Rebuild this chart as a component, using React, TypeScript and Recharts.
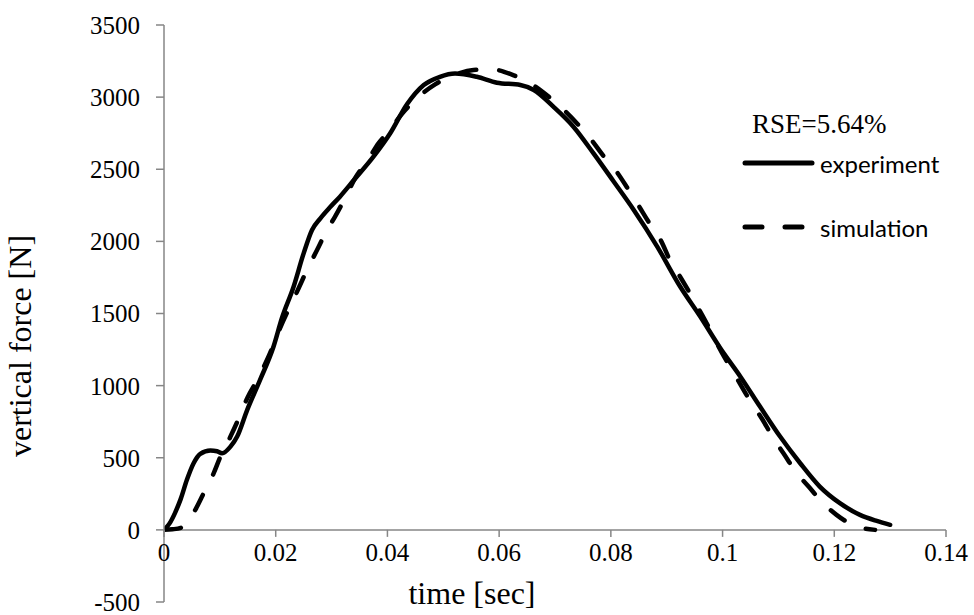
import { LineChart, Line, XAxis, YAxis, ReferenceLine } from "recharts";

// measured ground reaction force (solid)
const expTime = [
  0, 0.001, 0.002, 0.003, 0.0041, 0.0053, 0.0065, 0.0083, 0.0095, 0.0104, 0.0119, 0.0131,
  0.0149, 0.0172, 0.0196, 0.0211, 0.0232, 0.025, 0.0265, 0.028, 0.0298, 0.0315, 0.034,
  0.0375, 0.0405, 0.0435, 0.0465, 0.0494, 0.0521, 0.056, 0.0596, 0.0638, 0.0662, 0.0697,
  0.0733, 0.0769, 0.0805, 0.0841, 0.0883, 0.0924, 0.096, 0.0996, 0.1032, 0.1067, 0.1103,
  0.1139, 0.1174, 0.121, 0.1246, 0.1276, 0.13,
];
const expForce = [
  0, 45, 120, 215, 347, 462, 527, 550, 545, 531, 577, 647,
  832, 1040, 1270, 1467, 1686, 1917, 2079, 2160, 2240, 2310, 2425,
  2587, 2749, 2950, 3084, 3141, 3164, 3141, 3100, 3084, 3049, 2934,
  2795, 2610, 2415, 2218, 1964, 1687, 1479, 1259, 1062, 855, 647,
  462, 300, 185, 104, 62, 35,
];

// simulated force (dashed)
const simTime = [
  0, 0.0015, 0.003, 0.0056, 0.0071, 0.0089, 0.0101, 0.0119, 0.0134, 0.0149, 0.0167, 0.0187,
  0.0208, 0.0241, 0.0256, 0.0274, 0.0292, 0.0306, 0.0324, 0.0342, 0.0366, 0.0384, 0.0399,
  0.0432, 0.0453, 0.0486, 0.0516, 0.0554, 0.0587, 0.0625, 0.0656, 0.0689, 0.0713, 0.0742,
  0.0763, 0.079, 0.0808, 0.0832, 0.0849, 0.0871, 0.0889, 0.0907, 0.0924, 0.0945, 0.096,
  0.0981, 0.0993, 0.1022, 0.1052, 0.107, 0.1091, 0.1109, 0.1133, 0.1154, 0.118, 0.1204,
  0.124, 0.1273,
];
const simForce = [
  0, 4, 14, 139, 254, 393, 508, 647, 774, 913, 1040, 1200,
  1400, 1675, 1802, 1940, 2080, 2170, 2299, 2437, 2570, 2680, 2749,
  2911, 2992, 3090, 3146, 3188, 3192, 3153, 3095, 3002, 2922, 2807,
  2714, 2576, 2495, 2356, 2252, 2114, 2010, 1860, 1755, 1617, 1513,
  1363, 1270, 1075, 878, 774, 635, 531, 393, 300, 185, 104,
  23, 0,
];

const xTicks = [0, 0.02, 0.04, 0.06, 0.08, 0.1, 0.12, 0.14];
const yTicks = [-500, 0, 500, 1000, 1500, 2000, 2500, 3000, 3500];

const expData = expTime.map((t, i) => ({ t, f: expForce[i] }));
const simData = simTime.map((t, i) => ({ t, f: simForce[i] }));

const W = 974;
const H = 615;
const M = { top: 25, right: 28, bottom: 0, left: 0 };
const X_AXIS_H = 13;
const Y_MIN = -500;
const Y_MAX = 3500;
const AXIS = "#868686";
const SERIF = '"Liberation Serif", "Times New Roman", serif';

const legendItems = [
  { name: "experiment", dash: undefined as string | undefined },
  { name: "simulation", dash: "17 23" },
];

// x axis crosses at y = 0, so ticks are drawn there instead of at the plot bottom
function XTick(props: any) {
  const { x, payload } = props;
  const plotH = H - M.top - M.bottom - X_AXIS_H;
  const y0 = M.top + (plotH * (Y_MAX - 0)) / (Y_MAX - Y_MIN);
  return (
    <g>
      <line x1={x} x2={x} y1={y0} y2={y0 + 7} stroke={AXIS} strokeWidth={1.5} />
      <text x={x} y={y0 + 31} textAnchor="middle" fontFamily={SERIF} fontSize={25} fill="#000">
        {payload.value}
      </text>
    </g>
  );
}

export default function App() {
  return (
    <div style={{ position: "relative", width: W, height: H, background: "#fff" }}>
      <style>{"body{margin:0}"}</style>
      <LineChart width={W} height={H} margin={M} style={{ overflow: "visible" }}>
        <XAxis
          dataKey="t"
          type="number"
          domain={[0, 0.14]}
          ticks={xTicks}
          interval={0}
          axisLine={false}
          tickLine={false}
          tickSize={0}
          tickMargin={0}
          height={X_AXIS_H}
          tick={<XTick />}
          allowDataOverflow
        />
        <YAxis
          type="number"
          domain={[Y_MIN, Y_MAX]}
          ticks={yTicks}
          width={164}
          tickSize={8}
          tickMargin={16}
          tick={{ fontFamily: SERIF, fontSize: 25, fill: "#000" }}
          axisLine={{ stroke: AXIS, strokeWidth: 1.5 }}
          tickLine={{ stroke: AXIS, strokeWidth: 1.5 }}
          interval={0}
        />
        <ReferenceLine y={0} stroke={AXIS} strokeWidth={1.5} />
        <Line
          data={expData}
          dataKey="f"
          name="experiment"
          type="monotone"
          stroke="#000"
          strokeWidth={4.5}
          strokeLinejoin="round"
          strokeLinecap="round"
          dot={false}
          isAnimationActive={false}
        />
        <Line
          data={simData}
          dataKey="f"
          name="simulation"
          type="monotone"
          stroke="#000"
          strokeWidth={4.5}
          strokeDasharray="17 23"
          strokeLinecap="round"
          dot={false}
          isAnimationActive={false}
        />
      </LineChart>

      <div style={{ position: "absolute", left: 742, top: 131 }}>
        {legendItems.map((it) => (
          <div key={it.name} style={{ display: "flex", alignItems: "center", height: 64 }}>
            <svg width={76} height={10}>
              <line
                x1={3}
                x2={70}
                y1={5}
                y2={5}
                stroke="#000"
                strokeWidth={5}
                strokeDasharray={it.dash}
                strokeLinecap="round"
              />
            </svg>
            <span style={{ marginLeft: 2, fontFamily: "Lato, sans-serif", fontSize: 24, color: "#000" }}>
              {it.name}
            </span>
          </div>
        ))}
      </div>

      <div
        style={{
          position: "absolute",
          left: 752,
          top: 107,
          fontFamily: SERIF,
          fontSize: 27,
          lineHeight: "34px",
          whiteSpace: "nowrap",
        }}
      >
        RSE=5.64%
      </div>
      <div
        style={{
          position: "absolute",
          left: 472,
          top: 593,
          transform: "translate(-50%, -50%)",
          fontFamily: SERIF,
          fontSize: 32,
          whiteSpace: "nowrap",
        }}
      >
        time [sec]
      </div>
      <div
        style={{
          position: "absolute",
          left: 20,
          top: 346,
          transform: "translate(-50%, -50%) rotate(-90deg)",
          fontFamily: SERIF,
          fontSize: 32,
          lineHeight: "34px",
          whiteSpace: "nowrap",
        }}
      >
        vertical force [N]
      </div>
    </div>
  );
}
